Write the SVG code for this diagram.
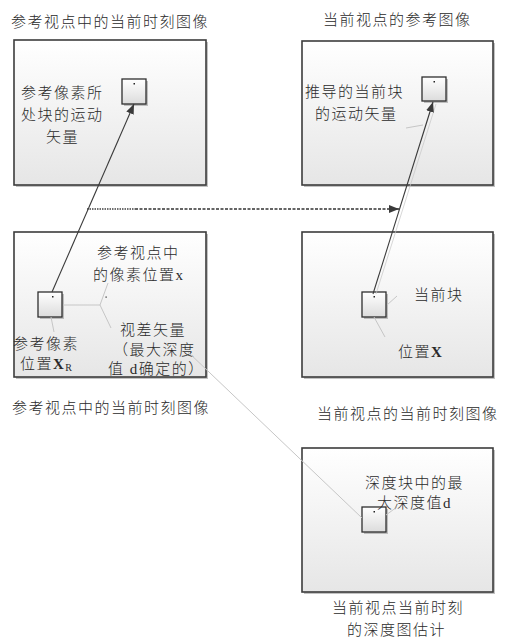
<svg xmlns="http://www.w3.org/2000/svg" width="507" height="638" viewBox="0 0 507 638">
<defs>
<linearGradient id="gBox" x1="0" y1="0" x2="0" y2="1">
<stop offset="0" stop-color="#ffffff"/><stop offset="1" stop-color="#e6e6e6"/>
</linearGradient>
<linearGradient id="gSq" x1="0" y1="0" x2="0" y2="1">
<stop offset="0" stop-color="#ffffff"/><stop offset="1" stop-color="#dcdcdc"/>
</linearGradient>
<marker id="arr" markerUnits="userSpaceOnUse" markerWidth="11" markerHeight="8" refX="10" refY="4" orient="auto">
<path d="M0,0 L10,4 L0,8 z" fill="#3a3a3a"/>
</marker>
</defs>
<style>
text{font-family:"Liberation Serif","Noto Sans CJK SC",serif;font-size:15px;font-weight:300;fill:#2a2a2a;letter-spacing:1.5px}
.bx{font-weight:bold}
.shadow{fill:#9a9a9a;opacity:0.6}
.box{fill:url(#gBox);stroke:#3c3c3c;stroke-width:1.6}
.sq{fill:url(#gSq);stroke:#2e2e2e;stroke-width:1.3}
.dot{fill:#222}
.call{stroke:#c6c6c6;stroke-width:1;fill:none}
.dark{stroke:#3a3a3a;stroke-width:1.1;fill:none}
</style>
<rect width="507" height="638" fill="#ffffff"/>

<g id="node-ref-view-ref-image">
<text x="11" y="27">参考视点中的当前时刻图像</text>
<rect class="shadow" x="16" y="42" width="192" height="145"/>
<rect class="box" x="14" y="40" width="192" height="145"/>
<rect class="shadow" x="124" y="81" width="24" height="25"/>
<rect class="sq" x="122" y="79" width="24" height="25"/>
<rect class="dot" x="133.5" y="83" width="1.5" height="1.5"/>
<text x="21" y="98">参考像素所</text>
<text x="21" y="120">处块的运动</text>
<text x="46" y="142">矢量</text>
</g>

<g id="node-cur-view-ref-image">
<text x="323" y="25">当前视点的参考图像</text>
<rect class="shadow" x="304" y="43" width="191" height="144"/>
<rect class="box" x="302" y="41" width="191" height="144"/>
<rect class="shadow" x="424" y="79" width="24" height="24"/>
<rect class="sq" x="422" y="77" width="24" height="24"/>
<rect class="dot" x="433.5" y="81" width="1.5" height="1.5"/>
<text x="305" y="97">推导的当前块</text>
<text x="315" y="119">的运动矢量</text>
</g>

<g id="node-ref-view-cur-image">
<rect class="shadow" x="16" y="234" width="192" height="145"/>
<rect class="box" x="14" y="232" width="192" height="145"/>
<rect class="shadow" x="40" y="294" width="24" height="25"/>
<rect class="sq" x="38" y="292" width="24" height="25"/>
<rect class="dot" x="52" y="296" width="1.5" height="1.5"/>
<text x="97" y="258">参考视点中</text>
<text x="93" y="280">的像素位置x</text>
<text x="120" y="335">视差矢量</text>
<text x="113" y="355">（最大深度</text>
<text x="108" y="374">值 d确定的）</text>
<text x="13" y="349">参考像素</text>
<text x="20" y="369">位置<tspan class="bx">X</tspan><tspan font-size="10" dy="2">R</tspan></text>
<text x="12" y="413">参考视点中的当前时刻图像</text>
</g>

<g id="node-cur-view-cur-image">
<rect class="shadow" x="304" y="234" width="191" height="145"/>
<rect class="box" x="302" y="232" width="191" height="145"/>
<rect class="shadow" x="364" y="294" width="24" height="25"/>
<rect class="sq" x="362" y="292" width="24" height="25"/>
<rect class="dot" x="373.5" y="296" width="1.5" height="1.5"/>
<text x="414" y="300">当前块</text>
<text x="398" y="357">位置<tspan class="bx">X</tspan></text>
<text x="317" y="419">当前视点的当前时刻图像</text>
</g>

<g id="node-cur-view-depth">
<rect class="shadow" x="304" y="450" width="191" height="144"/>
<rect class="box" x="302" y="448" width="191" height="144"/>
<rect class="shadow" x="364" y="509" width="24" height="25"/>
<rect class="sq" x="362" y="507" width="24" height="25"/>
<rect class="dot" x="373.5" y="511" width="1.5" height="1.5"/>
<text x="365" y="488">深度块中的最</text>
<text x="377" y="508">大深度值d</text>
<text x="332" y="613">当前视点当前时刻</text>
<text x="347" y="635">的深度图估计</text>
</g>

<g id="connectors">
<line class="call" x1="406" y1="128" x2="423" y2="125"/>
<polyline class="call" points="63,305 100,305 108,283"/>
<line class="call" x1="100" y1="305" x2="111" y2="328"/>
<rect class="dot" x="105.5" y="296.5" width="1.2" height="1.2"/>
<line class="call" x1="51" y1="317" x2="54" y2="332"/>
<line class="call" x1="387" y1="305" x2="397" y2="296"/>
<line class="call" x1="374" y1="317" x2="385" y2="337"/>
<line class="call" x1="386" y1="515" x2="397" y2="507"/>
<line class="call" x1="188" y1="352" x2="362" y2="518"/>
<line class="call" x1="376" y1="294" x2="436" y2="104" opacity="0.7"/>
<line class="dark" x1="52" y1="292" x2="134" y2="104" marker-end="url(#arr)"/>
<line class="dark" x1="373" y1="294" x2="433" y2="102" marker-end="url(#arr)"/>
<line x1="87" y1="209" x2="135" y2="209" stroke="#404040" stroke-width="1.4" stroke-dasharray="1.5,1"/>
<line x1="135" y1="209" x2="399" y2="209" stroke="#333333" stroke-width="1.6" stroke-dasharray="3,1.5" marker-end="url(#arr)"/>
</g>
</svg>
